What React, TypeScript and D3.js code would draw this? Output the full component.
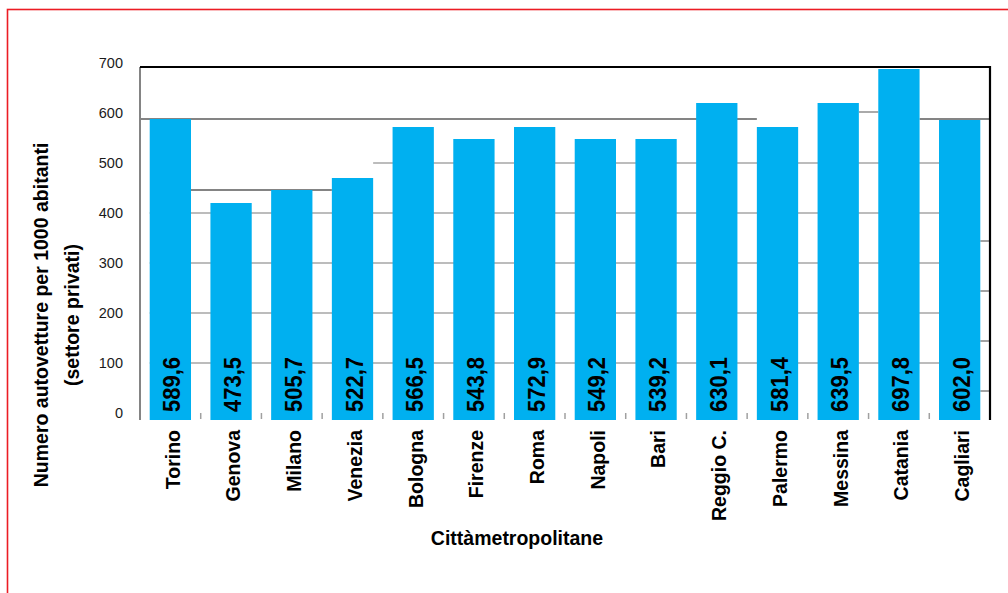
import { useRef, useEffect } from 'react'
import * as d3 from 'd3'

// city labels, printed values and bar heights
const cities = ['Torino', 'Genova', 'Milano', 'Venezia', 'Bologna', 'Firenze', 'Roma', 'Napoli', 'Bari', 'Reggio C.', 'Palermo', 'Messina', 'Catania', 'Cagliari']
const printedValues = [589.6, 473.5, 505.7, 522.7, 566.5, 543.8, 572.9, 549.2, 539.2, 630.1, 581.4, 639.5, 697.8, 602.0]
const barHeights = [588, 420, 446, 470, 572, 548, 572, 548, 548, 620, 572, 620, 688, 586]
const yTicks = [0, 100, 200, 300, 400, 500, 600, 700]
const gridTicks = [100, 200, 300, 400]

const yTitle = ['Numero autovetture per 1000 abitanti', '(settore privati)']
const xTitle = 'Cittàmetropolitane'

const FONT = '"Liberation Sans", Arial, Helvetica, sans-serif'
const BAR = '#00B0F0'

export default function App() {
  const svgRef = useRef<SVGSVGElement>(null)

  useEffect(() => {
    if (!svgRef.current) return
    const W = 1008
    const H = 593
    const plot = { left: 140, right: 990, top: 67, bottom: 420 }

    const svg = d3.select(svgRef.current)
    svg.selectAll('*').remove()
    svg.attr('width', W).attr('height', H)

    const x = d3.scaleBand<string>().domain(cities).range([plot.left, plot.right]).paddingInner(0.32).paddingOuter(0.16)
    const y = d3.scaleLinear().domain([0, 700]).range([413, 63])
    const bw = x.bandwidth()
    const gap = x.step() - bw
    const first = x(cities[0]) ?? 0
    const last = x(cities[cities.length - 1]) ?? 0

    // red outer frame
    svg.append('rect')
      .attr('x', 7.5).attr('y', 9.5)
      .attr('width', W + 20).attr('height', H + 20)
      .attr('fill', 'none').attr('stroke', '#ec1c24').attr('stroke-width', 1.6)

    // gridlines
    const grid = svg.append('g')
    grid.selectAll('line.g')
      .data(gridTicks)
      .join('line')
      .attr('x1', first).attr('x2', last)
      .attr('y1', (d) => y(d)).attr('y2', (d) => y(d))
      .attr('stroke', '#a6a6a6').attr('stroke-width', 1.6)

    // 500 line only starts after Venezia
    grid.append('line')
      .attr('x1', (x('Venezia') ?? 0) + bw).attr('x2', last)
      .attr('y1', y(500)).attr('y2', y(500))
      .attr('stroke', '#a6a6a6').attr('stroke-width', 1.6)

    // shifted grid ticks peeking out right of the last bar
    grid.selectAll('line.r')
      .data(gridTicks)
      .join('line')
      .attr('x1', last + bw).attr('x2', plot.right)
      .attr('y1', (d) => y(d) + 28).attr('y2', (d) => y(d) + 28)
      .attr('stroke', '#8c8c8c').attr('stroke-width', 1.6)

    // darker broken lines near 600 / 446
    const dark = '#848484'
    grid.append('line')
      .attr('x1', plot.left).attr('x2', x('Palermo') ?? 0)
      .attr('y1', y(588)).attr('y2', y(588))
      .attr('stroke', dark).attr('stroke-width', 2)
    grid.append('line')
      .attr('x1', (x('Catania') ?? 0) + bw).attr('x2', plot.right)
      .attr('y1', y(588)).attr('y2', y(588))
      .attr('stroke', dark).attr('stroke-width', 2)
    grid.append('line')
      .attr('x1', first + bw).attr('x2', x('Venezia') ?? 0)
      .attr('y1', y(446)).attr('y2', y(446))
      .attr('stroke', dark).attr('stroke-width', 2)
    grid.append('line')
      .attr('x1', (x('Messina') ?? 0) + bw).attr('x2', x('Catania') ?? 0)
      .attr('y1', y(602)).attr('y2', y(602))
      .attr('stroke', '#aaaaaa').attr('stroke-width', 2)

    // separator ticks under the bars
    svg.append('g')
      .selectAll('line')
      .data(cities.slice(1))
      .join('line')
      .attr('x1', (d) => (x(d) ?? 0) - gap / 2).attr('x2', (d) => (x(d) ?? 0) - gap / 2)
      .attr('y1', y(0)).attr('y2', plot.bottom - 1)
      .attr('stroke', '#a0a0a0').attr('stroke-width', 1.5)

    // bars
    svg.append('g')
      .selectAll('rect')
      .data(cities)
      .join('rect')
      .attr('x', (d) => x(d) ?? 0)
      .attr('y', (_, i) => y(barHeights[i]))
      .attr('width', bw)
      .attr('height', (_, i) => plot.bottom - y(barHeights[i]))
      .attr('fill', BAR)

    // value labels inside the bars
    svg.append('g')
      .selectAll('text')
      .data(cities)
      .join('text')
      .attr('transform', (d) => `translate(${(x(d) ?? 0) + bw / 2},${y(0) - 1}) rotate(-90)`)
      .attr('dy', '0.42em')
      .attr('font-family', FONT)
      .attr('font-weight', 'bold')
      .attr('font-size', 24)
      .attr('textLength', 55)
      .attr('lengthAdjust', 'spacingAndGlyphs')
      .attr('fill', '#000')
      .text((_, i) => printedValues[i].toFixed(1).replace('.', ','))

    // frame
    svg.append('line')
      .attr('x1', plot.left).attr('x2', plot.left)
      .attr('y1', plot.top).attr('y2', plot.bottom)
      .attr('stroke', '#848484').attr('stroke-width', 2)
    svg.append('path')
      .attr('d', `M${plot.left},${plot.top}H${plot.right}V${plot.bottom}`)
      .attr('fill', 'none').attr('stroke', '#000').attr('stroke-width', 2.2)

    // y tick labels
    svg.append('g')
      .selectAll('text')
      .data(yTicks)
      .join('text')
      .attr('x', 123)
      .attr('y', (d) => y(d))
      .attr('dy', '0.36em')
      .attr('text-anchor', 'end')
      .attr('font-family', FONT)
      .attr('font-size', 14.5)
      .attr('fill', '#1a1a1a')
      .text((d) => d)

    // category labels
    svg.append('g')
      .selectAll('text')
      .data(cities)
      .join('text')
      .attr('transform', (d) => `translate(${(x(d) ?? 0) + bw / 2},430) rotate(-90)`)
      .attr('dy', '0.48em')
      .attr('text-anchor', 'end')
      .attr('font-family', FONT)
      .attr('font-weight', 'bold')
      .attr('font-size', 19.5)
      .attr('fill', '#000')
      .text((d) => d)

    // axis titles
    svg.append('g')
      .selectAll('text')
      .data(yTitle)
      .join('text')
      .attr('transform', (_, i) => `translate(${48 + i * 31},315) rotate(-90)`)
      .attr('text-anchor', 'middle')
      .attr('font-family', FONT)
      .attr('font-weight', 'bold')
      .attr('font-size', 19.5)
      .attr('fill', '#000')
      .text((d) => d)

    svg.append('text')
      .attr('x', 517)
      .attr('y', 545)
      .attr('text-anchor', 'middle')
      .attr('font-family', FONT)
      .attr('font-weight', 'bold')
      .attr('font-size', 19.5)
      .attr('fill', '#000')
      .text(xTitle)
  }, [])

  return (
    <div style={{ position: 'absolute', left: 0, top: 0, width: 1008, height: 593, background: '#fff', overflow: 'hidden' }}>
      <svg ref={svgRef} style={{ display: 'block' }} />
    </div>
  )
}
